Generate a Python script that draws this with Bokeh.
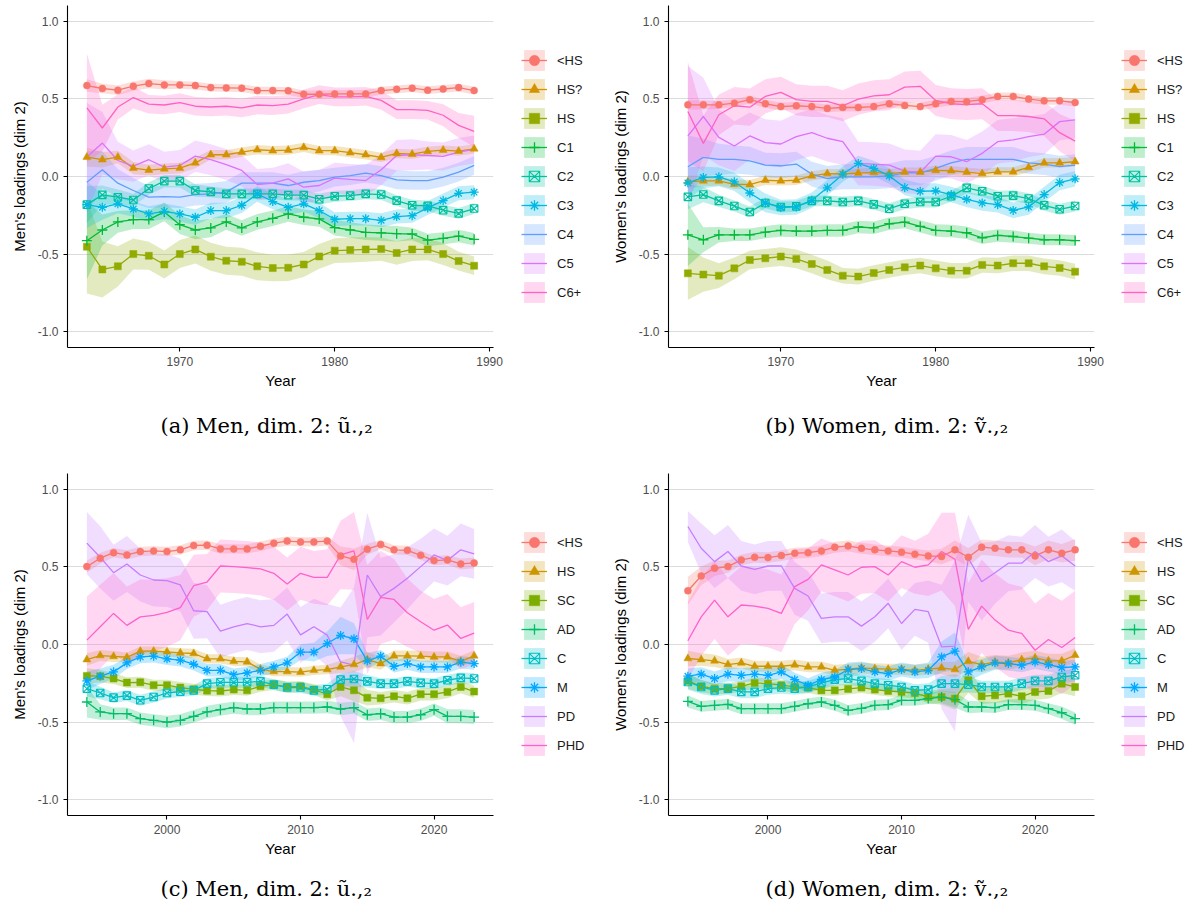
import numpy as np
from bokeh.plotting import figure
from bokeh.models import Legend, LegendItem, Title, FixedTicker, NumeralTickFormatter, Range1d
from bokeh.layouts import gridplot
from bokeh.embed import file_html
from bokeh.resources import INLINE

# ---------------- data ----------------
years_top = list(range(1964, 1990))
years_bot = list(range(1994, 2024))

top_names = ["<HS", "HS?", "HS", "C1", "C2", "C3", "C4", "C5", "C6+"]
bot_names = ["<HS", "HS", "SC", "AD", "C", "M", "PD", "PHD"]

top_colors = ["#F8766D", "#D39200", "#93AA00", "#00BA38", "#00C19F", "#00B9E3", "#619CFF", "#DB72FB", "#FF61C3"]
bot_colors = ["#F8766D", "#CD9600", "#7CAE00", "#00BE67", "#00BFC4", "#00A9FF", "#C77CFF", "#FF61CC"]

top_markers = ["circle", "triangle", "square", "cross", "square_x", "asterisk", None, None, None]
bot_markers = ["circle", "triangle", "square", "cross", "square_x", "asterisk", None, None]

# Panel (a): men 1964-1989
a_lths = [0.585,0.566,0.555,0.581,0.598,0.589,0.589,0.585,0.572,0.570,0.568,0.553,0.553,0.551,0.529,0.529,0.531,0.531,0.531,0.553,0.561,0.568,0.555,0.563,0.572,0.553]
a_hsq = [0.125,0.108,0.125,0.054,0.041,0.049,0.054,0.088,0.140,0.140,0.157,0.172,0.166,0.170,0.187,0.166,0.166,0.153,0.140,0.123,0.148,0.144,0.161,0.170,0.163,0.178]
a_hs = [-0.452,-0.598,-0.578,-0.499,-0.510,-0.566,-0.499,-0.469,-0.516,-0.542,-0.548,-0.578,-0.589,-0.587,-0.566,-0.514,-0.477,-0.473,-0.469,-0.467,-0.492,-0.469,-0.469,-0.499,-0.544,-0.574]
a_c1 = [-0.413,-0.344,-0.292,-0.277,-0.277,-0.228,-0.310,-0.344,-0.331,-0.292,-0.331,-0.292,-0.269,-0.241,-0.262,-0.273,-0.329,-0.344,-0.359,-0.363,-0.368,-0.370,-0.409,-0.398,-0.383,-0.404]
a_c2 = [-0.181,-0.118,-0.133,-0.151,-0.077,-0.030,-0.030,-0.090,-0.099,-0.112,-0.112,-0.112,-0.112,-0.120,-0.120,-0.146,-0.127,-0.123,-0.112,-0.116,-0.155,-0.185,-0.189,-0.217,-0.237,-0.206]
a_c3 = [-0.181,-0.198,-0.176,-0.209,-0.241,-0.224,-0.241,-0.262,-0.219,-0.219,-0.185,-0.112,-0.161,-0.198,-0.176,-0.219,-0.275,-0.271,-0.271,-0.282,-0.258,-0.252,-0.202,-0.155,-0.108,-0.101]
a_c4 = [-0.037,0.043,-0.043,-0.090,-0.133,-0.129,-0.133,-0.116,-0.112,-0.099,-0.043,-0.043,-0.043,-0.058,-0.037,-0.026,-0.004,0.006,0.022,0.006,-0.022,-0.026,-0.026,-0.004,0.028,0.071]
a_c5 = [0.125,0.215,0.103,0.067,0.108,0.060,0.071,0.131,0.108,0.077,0.039,-0.052,-0.043,-0.015,-0.069,-0.058,-0.011,-0.019,-0.026,0.043,0.135,0.140,0.135,0.129,0.157,0.174]
a_c6 = [0.441,0.312,0.447,0.508,0.465,0.460,0.475,0.452,0.447,0.452,0.441,0.460,0.456,0.465,0.499,0.527,0.512,0.512,0.516,0.490,0.430,0.430,0.426,0.394,0.329,0.290]
# half-widths of the confidence ribbons
a_lths_se = [0.04,0.03,0.03,0.03,0.03,0.03,0.025,0.025,0.025,0.025,0.025,0.025,0.025,0.025,0.025,0.025,0.025,0.025,0.025,0.025,0.025,0.025,0.025,0.025,0.025,0.025]
a_hsq_se = [0.06,0.05,0.04,0.04,0.035,0.035,0.035,0.035,0.03,0.03,0.03,0.03,0.03,0.03,0.03,0.03,0.03,0.03,0.03,0.03,0.03,0.03,0.03,0.03,0.03,0.03]
a_hs_se = [0.3,0.18,0.13,0.1,0.09,0.09,0.09,0.09,0.09,0.09,0.09,0.09,0.085,0.085,0.08,0.08,0.08,0.08,0.08,0.075,0.075,0.075,0.07,0.07,0.06,0.06]
a_c1_se = [0.25,0.1,0.07,0.06,0.06,0.06,0.06,0.06,0.06,0.05,0.05,0.05,0.05,0.05,0.05,0.05,0.05,0.05,0.05,0.05,0.05,0.04,0.04,0.04,0.04,0.04]
a_c2_se = [0.12,0.06,0.05,0.04,0.04,0.04,0.04,0.04,0.035,0.035,0.035,0.035,0.035,0.035,0.035,0.035,0.035,0.035,0.035,0.035,0.035,0.035,0.035,0.035,0.035,0.035]
a_c3_se = [0.15,0.08,0.06,0.05,0.05,0.05,0.05,0.05,0.05,0.05,0.05,0.05,0.05,0.05,0.05,0.05,0.045,0.045,0.045,0.045,0.045,0.045,0.045,0.045,0.045,0.045]
a_c4_se = [0.2,0.12,0.09,0.08,0.07,0.07,0.07,0.07,0.07,0.07,0.07,0.07,0.07,0.07,0.07,0.07,0.06,0.06,0.06,0.06,0.06,0.06,0.06,0.06,0.06,0.06]
a_c5_se = [0.35,0.2,0.12,0.1,0.1,0.1,0.1,0.1,0.1,0.1,0.1,0.1,0.1,0.1,0.1,0.1,0.1,0.1,0.1,0.1,0.1,0.1,0.09,0.09,0.09,0.09]
a_c6_se = [0.35,0.15,0.08,0.07,0.06,0.06,0.06,0.06,0.06,0.06,0.06,0.06,0.06,0.06,0.06,0.06,0.06,0.06,0.06,0.06,0.06,0.06,0.06,0.07,0.08,0.1]

# Panel (b): women 1964-1989
b_lths = [0.461,0.461,0.461,0.472,0.494,0.468,0.450,0.455,0.450,0.438,0.444,0.444,0.450,0.468,0.457,0.450,0.468,0.483,0.481,0.494,0.515,0.515,0.498,0.487,0.487,0.476]
b_hsq = [-0.034,-0.028,-0.028,-0.050,-0.052,-0.024,-0.028,-0.024,0.004,0.019,0.017,0.022,0.026,0.019,0.028,0.028,0.039,0.037,0.028,0.019,0.030,0.030,0.058,0.088,0.088,0.095]
b_hs = [-0.623,-0.631,-0.638,-0.591,-0.537,-0.526,-0.515,-0.530,-0.563,-0.601,-0.638,-0.644,-0.621,-0.601,-0.584,-0.573,-0.591,-0.606,-0.606,-0.569,-0.573,-0.558,-0.558,-0.578,-0.588,-0.612]
b_c1 = [-0.375,-0.407,-0.375,-0.375,-0.375,-0.358,-0.347,-0.351,-0.351,-0.347,-0.347,-0.325,-0.330,-0.304,-0.293,-0.321,-0.347,-0.351,-0.362,-0.394,-0.379,-0.386,-0.397,-0.407,-0.407,-0.412]
b_c2 = [-0.131,-0.116,-0.157,-0.190,-0.228,-0.170,-0.196,-0.192,-0.157,-0.157,-0.164,-0.157,-0.179,-0.207,-0.175,-0.164,-0.164,-0.127,-0.073,-0.095,-0.127,-0.123,-0.142,-0.185,-0.211,-0.190]
b_c3 = [-0.041,-0.006,-0.002,-0.034,-0.106,-0.170,-0.200,-0.196,-0.153,-0.073,0.015,0.084,0.052,0.004,-0.071,-0.095,-0.093,-0.116,-0.147,-0.170,-0.181,-0.218,-0.196,-0.116,-0.039,-0.015]
b_c4 = [0.063,0.123,0.110,0.110,0.101,0.073,0.069,0.080,0.015,-0.013,-0.002,-0.002,-0.002,0.004,0.024,0.024,0.052,0.088,0.110,0.110,0.110,0.110,0.088,0.080,0.063,0.073]
b_c5 = [0.261,0.386,0.252,0.196,0.261,0.218,0.209,0.256,0.282,0.246,0.224,0.084,0.080,0.073,0.034,0.026,0.131,0.127,0.095,0.149,0.224,0.235,0.256,0.272,0.353,0.364]
b_c6 = [0.418,0.213,0.397,0.455,0.446,0.515,0.541,0.494,0.483,0.483,0.455,0.498,0.519,0.526,0.575,0.580,0.489,0.468,0.463,0.468,0.392,0.392,0.386,0.371,0.282,0.228]
b_lths_se = [0.03,0.03,0.025,0.025,0.025,0.025,0.025,0.025,0.025,0.025,0.025,0.025,0.025,0.025,0.025,0.025,0.025,0.025,0.025,0.025,0.025,0.025,0.025,0.025,0.025,0.025]
b_hsq_se = [0.04,0.035,0.03,0.03,0.03,0.03,0.03,0.03,0.03,0.03,0.03,0.03,0.03,0.03,0.03,0.03,0.03,0.03,0.03,0.03,0.03,0.03,0.03,0.03,0.03,0.03]
b_hs_se = [0.17,0.11,0.08,0.07,0.06,0.06,0.06,0.06,0.06,0.06,0.05,0.05,0.05,0.05,0.05,0.05,0.05,0.05,0.05,0.05,0.05,0.05,0.05,0.05,0.05,0.05]
b_c1_se = [0.2,0.08,0.05,0.04,0.04,0.04,0.04,0.04,0.04,0.04,0.04,0.04,0.04,0.04,0.04,0.04,0.04,0.04,0.04,0.04,0.04,0.04,0.035,0.035,0.035,0.035]
b_c2_se = [0.08,0.05,0.04,0.035,0.035,0.035,0.035,0.035,0.035,0.035,0.035,0.035,0.035,0.035,0.035,0.035,0.035,0.035,0.035,0.035,0.035,0.035,0.035,0.035,0.035,0.035]
b_c3_se = [0.1,0.07,0.06,0.06,0.06,0.06,0.05,0.05,0.05,0.05,0.05,0.05,0.05,0.05,0.05,0.05,0.05,0.05,0.05,0.05,0.05,0.05,0.05,0.05,0.05,0.05]
b_c4_se = [0.2,0.12,0.1,0.09,0.09,0.08,0.08,0.08,0.08,0.08,0.08,0.08,0.08,0.08,0.08,0.08,0.08,0.08,0.08,0.08,0.08,0.08,0.07,0.07,0.07,0.07]
b_c5_se = [0.45,0.25,0.18,0.16,0.15,0.15,0.15,0.15,0.15,0.15,0.15,0.14,0.14,0.14,0.14,0.14,0.14,0.14,0.14,0.14,0.14,0.14,0.13,0.13,0.12,0.12]
b_c6_se = [0.32,0.18,0.13,0.12,0.12,0.11,0.1,0.1,0.1,0.1,0.1,0.1,0.1,0.1,0.1,0.1,0.1,0.1,0.1,0.1,0.1,0.1,0.1,0.11,0.12,0.13]

# Panel (c): men 1994-2023
c_lths = [0.501,0.555,0.591,0.576,0.598,0.602,0.598,0.609,0.637,0.639,0.615,0.615,0.615,0.632,0.652,0.665,0.660,0.660,0.665,0.570,0.548,0.613,0.643,0.609,0.606,0.574,0.540,0.544,0.518,0.525]
c_hs = [-0.097,-0.071,-0.077,-0.082,-0.043,-0.043,-0.047,-0.054,-0.058,-0.092,-0.092,-0.108,-0.112,-0.159,-0.174,-0.174,-0.178,-0.166,-0.161,-0.144,-0.129,-0.097,-0.123,-0.073,-0.073,-0.075,-0.080,-0.080,-0.108,-0.073]
c_sc = [-0.202,-0.204,-0.219,-0.245,-0.243,-0.262,-0.262,-0.277,-0.288,-0.297,-0.299,-0.290,-0.295,-0.269,-0.258,-0.273,-0.269,-0.290,-0.320,-0.273,-0.295,-0.342,-0.346,-0.333,-0.346,-0.320,-0.320,-0.305,-0.273,-0.303]
c_ad = [-0.370,-0.434,-0.445,-0.445,-0.477,-0.488,-0.499,-0.488,-0.462,-0.434,-0.419,-0.406,-0.415,-0.415,-0.406,-0.406,-0.406,-0.406,-0.402,-0.415,-0.406,-0.452,-0.445,-0.467,-0.467,-0.452,-0.419,-0.462,-0.462,-0.467]
c_c = [-0.284,-0.312,-0.342,-0.329,-0.359,-0.338,-0.312,-0.303,-0.295,-0.252,-0.243,-0.243,-0.243,-0.237,-0.258,-0.277,-0.277,-0.295,-0.288,-0.226,-0.222,-0.237,-0.252,-0.252,-0.237,-0.247,-0.252,-0.230,-0.215,-0.219]
c_m = [-0.234,-0.204,-0.176,-0.118,-0.080,-0.075,-0.092,-0.101,-0.127,-0.166,-0.166,-0.194,-0.183,-0.166,-0.144,-0.118,-0.049,-0.049,0.006,0.058,0.037,-0.105,-0.075,-0.140,-0.123,-0.144,-0.144,-0.144,-0.114,-0.123]
c_pd = [0.652,0.561,0.462,0.518,0.447,0.415,0.411,0.383,0.217,0.211,0.086,0.114,0.135,0.114,0.123,0.196,0.062,0.114,0.060,-0.112,-0.133,0.447,0.308,0.361,0.426,0.501,0.576,0.540,0.609,0.583]
c_phd = [0.028,0.114,0.200,0.123,0.178,0.187,0.206,0.237,0.378,0.402,0.505,0.501,0.495,0.486,0.458,0.389,0.458,0.432,0.432,0.576,0.602,0.161,0.303,0.290,0.204,0.146,0.092,0.125,0.039,0.073]
c_lths_se = [0.04,0.035,0.03,0.03,0.03,0.03,0.03,0.03,0.03,0.03,0.03,0.03,0.03,0.03,0.03,0.03,0.03,0.03,0.03,0.06,0.07,0.035,0.03,0.03,0.03,0.03,0.03,0.03,0.035,0.035]
c_hs_se = [0.04,0.035,0.035,0.03,0.03,0.03,0.03,0.03,0.03,0.03,0.03,0.03,0.03,0.03,0.03,0.03,0.03,0.03,0.03,0.04,0.05,0.05,0.04,0.035,0.035,0.035,0.035,0.035,0.035,0.035]
c_sc_se = [0.05,0.04,0.035,0.035,0.035,0.035,0.035,0.035,0.035,0.035,0.035,0.035,0.035,0.035,0.035,0.035,0.035,0.035,0.04,0.06,0.07,0.05,0.04,0.04,0.04,0.04,0.04,0.04,0.04,0.04]
c_ad_se = [0.1,0.05,0.04,0.04,0.04,0.04,0.04,0.04,0.04,0.04,0.04,0.04,0.04,0.04,0.04,0.04,0.04,0.04,0.04,0.04,0.04,0.04,0.04,0.04,0.04,0.04,0.04,0.045,0.045,0.045]
c_c_se = [0.05,0.04,0.035,0.035,0.035,0.035,0.035,0.035,0.035,0.035,0.035,0.035,0.035,0.035,0.035,0.035,0.035,0.035,0.035,0.04,0.05,0.04,0.035,0.035,0.035,0.035,0.035,0.035,0.035,0.035]
c_m_se = [0.06,0.05,0.045,0.04,0.04,0.04,0.04,0.04,0.04,0.04,0.04,0.04,0.04,0.04,0.04,0.04,0.05,0.06,0.08,0.12,0.1,0.05,0.04,0.04,0.04,0.04,0.04,0.04,0.04,0.04]
c_pd_se = [0.2,0.2,0.18,0.18,0.17,0.17,0.17,0.17,0.18,0.17,0.17,0.17,0.17,0.17,0.17,0.17,0.18,0.18,0.2,0.35,0.5,0.4,0.25,0.22,0.2,0.18,0.17,0.16,0.17,0.16]
c_phd_se = [0.28,0.27,0.26,0.25,0.24,0.23,0.22,0.21,0.2,0.18,0.17,0.17,0.17,0.17,0.17,0.17,0.17,0.17,0.18,0.22,0.25,0.35,0.3,0.26,0.22,0.2,0.2,0.2,0.2,0.2]

# Panel (d): women 1994-2023
d_lths = [0.346,0.441,0.490,0.501,0.544,0.561,0.559,0.572,0.587,0.591,0.602,0.626,0.634,0.619,0.609,0.602,0.594,0.581,0.570,0.566,0.609,0.561,0.626,0.619,0.609,0.609,0.570,0.609,0.587,0.609]
d_hs = [-0.090,-0.097,-0.105,-0.129,-0.118,-0.140,-0.140,-0.140,-0.131,-0.144,-0.144,-0.166,-0.159,-0.151,-0.155,-0.159,-0.159,-0.166,-0.159,-0.151,-0.161,-0.108,-0.129,-0.112,-0.118,-0.097,-0.086,-0.105,-0.105,-0.069]
d_sc = [-0.234,-0.269,-0.284,-0.284,-0.269,-0.247,-0.252,-0.262,-0.273,-0.277,-0.295,-0.295,-0.286,-0.277,-0.290,-0.299,-0.305,-0.312,-0.338,-0.338,-0.348,-0.230,-0.333,-0.327,-0.316,-0.333,-0.305,-0.299,-0.252,-0.273]
d_ad = [-0.366,-0.398,-0.391,-0.385,-0.413,-0.413,-0.413,-0.413,-0.398,-0.381,-0.370,-0.391,-0.424,-0.411,-0.391,-0.387,-0.359,-0.359,-0.348,-0.338,-0.355,-0.402,-0.402,-0.406,-0.387,-0.387,-0.391,-0.413,-0.439,-0.477]
d_c = [-0.241,-0.273,-0.295,-0.284,-0.305,-0.305,-0.284,-0.277,-0.284,-0.273,-0.247,-0.226,-0.219,-0.234,-0.252,-0.262,-0.273,-0.295,-0.290,-0.252,-0.252,-0.258,-0.273,-0.273,-0.273,-0.252,-0.234,-0.234,-0.209,-0.198]
d_m = [-0.204,-0.191,-0.219,-0.191,-0.198,-0.191,-0.198,-0.176,-0.226,-0.262,-0.226,-0.209,-0.161,-0.155,-0.176,-0.187,-0.161,-0.176,-0.166,-0.080,-0.043,-0.176,-0.144,-0.118,-0.123,-0.133,-0.112,-0.129,-0.148,-0.144]
d_pd = [0.759,0.619,0.533,0.598,0.505,0.484,0.505,0.505,0.361,0.312,0.168,0.178,0.178,0.118,0.178,0.265,0.135,0.226,0.211,-0.015,-0.011,0.555,0.404,0.462,0.523,0.523,0.598,0.533,0.570,0.505]
d_phd = [0.024,0.178,0.286,0.178,0.254,0.247,0.232,0.200,0.372,0.419,0.512,0.480,0.447,0.497,0.501,0.447,0.533,0.497,0.512,0.598,0.548,0.097,0.247,0.157,0.092,0.071,-0.037,0.032,-0.019,0.045]
d_lths_se = [0.09,0.06,0.05,0.04,0.035,0.035,0.035,0.035,0.035,0.035,0.035,0.035,0.035,0.035,0.035,0.035,0.035,0.035,0.035,0.05,0.06,0.06,0.05,0.05,0.05,0.05,0.06,0.06,0.06,0.07]
d_hs_se = [0.05,0.04,0.04,0.035,0.035,0.035,0.035,0.035,0.035,0.035,0.035,0.035,0.035,0.035,0.035,0.035,0.035,0.035,0.035,0.04,0.05,0.06,0.05,0.045,0.045,0.045,0.045,0.045,0.045,0.045]
d_sc_se = [0.05,0.04,0.035,0.035,0.035,0.035,0.035,0.035,0.035,0.035,0.035,0.035,0.035,0.035,0.035,0.035,0.035,0.035,0.04,0.05,0.07,0.08,0.05,0.05,0.05,0.05,0.05,0.05,0.06,0.06]
d_ad_se = [0.04,0.035,0.035,0.035,0.035,0.035,0.035,0.035,0.035,0.035,0.035,0.035,0.035,0.035,0.035,0.035,0.035,0.035,0.035,0.04,0.05,0.04,0.035,0.035,0.035,0.035,0.035,0.035,0.04,0.04]
d_c_se = [0.05,0.045,0.04,0.04,0.04,0.04,0.04,0.04,0.04,0.04,0.04,0.04,0.04,0.04,0.04,0.04,0.04,0.04,0.04,0.05,0.06,0.05,0.04,0.04,0.04,0.04,0.04,0.04,0.04,0.04]
d_m_se = [0.05,0.045,0.045,0.045,0.045,0.045,0.045,0.045,0.045,0.045,0.045,0.045,0.045,0.045,0.045,0.045,0.045,0.045,0.05,0.1,0.12,0.06,0.05,0.045,0.045,0.045,0.045,0.045,0.045,0.045]
d_pd_se = [0.1,0.16,0.17,0.17,0.16,0.16,0.16,0.16,0.17,0.16,0.16,0.16,0.16,0.16,0.16,0.16,0.17,0.17,0.2,0.4,0.55,0.28,0.25,0.2,0.18,0.17,0.17,0.16,0.17,0.16]
d_phd_se = [0.25,0.25,0.25,0.25,0.25,0.25,0.25,0.25,0.24,0.2,0.17,0.17,0.17,0.17,0.17,0.17,0.17,0.17,0.2,0.25,0.3,0.3,0.3,0.3,0.3,0.3,0.3,0.3,0.3,0.3]

y_ticks = [-1.0, -0.5, 0.0, 0.5, 1.0]
x_ticks_top = [1970, 1980, 1990]
x_ticks_bot = [2000, 2010, 2020]

captions = ["(a) Men, dim. 2: ũ.,₂", "(b) Women, dim. 2: ṽ.,₂",
            "(c) Men, dim. 2: ũ.,₂", "(d) Women, dim. 2: ṽ.,₂"]

SANS = "Liberation Sans"
SERIF = "DejaVu Serif"

MSIZE = {"circle": 7, "triangle": 8, "square": 7, "cross": 10, "square_x": 7.5, "asterisk": 9}
MAIN_W = 510
LEG_W = 90
PANEL_H = 458


def add_series(p, years, colors, markers, values, ses):
    ribbons, lines, marks = [], [], []
    for col, vals, se in zip(colors, values, ses):
        v = np.array(vals, dtype=float)
        s = np.array(se, dtype=float)
        ribbons.append(p.varea(x=years, y1=v - s, y2=v + s, fill_color=col, fill_alpha=0.25))
    for col, vals in zip(colors, values):
        lines.append(p.line(years, vals, line_color=col, line_width=1.3))
    for col, vals, mk in zip(colors, values, markers):
        if mk is None:
            marks.append(None)
            continue
        if mk == "square_x":
            r = p.scatter(years, vals, marker=mk, size=MSIZE[mk], line_color=col,
                          fill_color=None, line_width=1.1)
        elif mk in ("cross", "asterisk"):
            r = p.scatter(years, vals, marker=mk, size=MSIZE[mk], line_color=col, line_width=1.3)
        else:
            r = p.scatter(years, vals, marker=mk, size=MSIZE[mk], line_color=col,
                          fill_color=col, line_width=0.5)
        marks.append(r)
    return ribbons, lines, marks


def panel(years, names, colors, markers, values, ses, ylabel, xticks, xr, caption,
          cap_off, top, border_left, cap_standoff):
    p = figure(width=MAIN_W, height=PANEL_H, x_range=Range1d(*xr), y_range=Range1d(-1.1, 1.1),
               output_backend="svg", toolbar_location=None, title_location=None,
               min_border_left=border_left, min_border_right=MAIN_W - border_left - 426,
               min_border_top=5 if top else 15, min_border_bottom=111 if top else 101)
    p.background_fill_color = "white"
    p.border_fill_color = "white"
    p.outline_line_color = None
    p.xgrid.grid_line_color = None
    p.ygrid.grid_line_color = "#dcdcdc"
    p.ygrid.grid_line_width = 1

    for ax in (p.xaxis[0], p.yaxis[0]):
        ax.axis_line_color = "black"
        ax.axis_line_width = 1.1
        ax.major_tick_line_color = "black"
        ax.major_tick_line_width = 1.1
        ax.major_tick_out = 4
        ax.major_tick_in = 0
        ax.minor_tick_line_color = None
        ax.major_label_text_font = SANS
        ax.major_label_text_font_size = "12px"
        ax.major_label_text_color = "#4d4d4d"
        ax.axis_label_text_font = SANS
        ax.axis_label_text_font_size = "15px"
        ax.axis_label_text_font_style = "normal"
        ax.axis_label_text_color = "black"
    p.xaxis.ticker = FixedTicker(ticks=xticks)
    p.yaxis.ticker = FixedTicker(ticks=y_ticks)
    p.yaxis.formatter = NumeralTickFormatter(format="0.0")
    p.xaxis.axis_label = "Year"
    p.yaxis.axis_label = ylabel
    p.xaxis.axis_label_standoff = 3
    p.yaxis.axis_label_standoff = 7

    add_series(p, years, colors, markers, values, ses)

    t = Title(text=caption, align="left", offset=cap_off, text_font=SERIF,
              text_font_size="21px", text_font_style="normal", text_color="black",
              standoff=cap_standoff, text_line_height=1.0)
    p.add_layout(t, "below")
    return p


def legend_panel(years, names, colors, markers, values, ses, legend_y):
    # companion figure holding the key; its renderers repeat the series styles,
    # while its ranges keep the data itself out of view
    q = figure(width=LEG_W, height=PANEL_H, x_range=Range1d(0, 1), y_range=Range1d(0, 1),
               output_backend="svg", toolbar_location=None, title_location=None,
               x_axis_type=None, y_axis_type=None,
               min_border_left=0, min_border_right=0, min_border_top=0, min_border_bottom=0)
    q.outline_line_color = None
    q.background_fill_color = "white"
    q.border_fill_color = "white"
    q.xgrid.visible = False
    q.ygrid.visible = False
    ribbons, lines, marks = add_series(q, years, colors, markers, values, ses)
    items = []
    for i, nm in enumerate(names):
        rs = [ribbons[i], lines[i]] + ([marks[i]] if marks[i] is not None else [])
        items.append(LegendItem(label=nm, renderers=rs))
    leg = Legend(items=items, location=(11, legend_y))
    leg.border_line_color = None
    leg.background_fill_alpha = 0
    leg.padding = 0
    leg.margin = 0
    leg.spacing = 3
    leg.glyph_width = 26
    leg.glyph_height = 26
    leg.label_standoff = 10
    leg.label_text_font = SANS
    leg.label_text_font_size = "13px"
    leg.label_text_color = "#1a1a1a"
    q.add_layout(leg)
    return q


a_vals = [a_lths, a_hsq, a_hs, a_c1, a_c2, a_c3, a_c4, a_c5, a_c6]
a_ses = [a_lths_se, a_hsq_se, a_hs_se, a_c1_se, a_c2_se, a_c3_se, a_c4_se, a_c5_se, a_c6_se]
b_vals = [b_lths, b_hsq, b_hs, b_c1, b_c2, b_c3, b_c4, b_c5, b_c6]
b_ses = [b_lths_se, b_hsq_se, b_hs_se, b_c1_se, b_c2_se, b_c3_se, b_c4_se, b_c5_se, b_c6_se]
c_vals = [c_lths, c_hs, c_sc, c_ad, c_c, c_m, c_pd, c_phd]
c_ses = [c_lths_se, c_hs_se, c_sc_se, c_ad_se, c_c_se, c_m_se, c_pd_se, c_phd_se]
d_vals = [d_lths, d_hs, d_sc, d_ad, d_c, d_m, d_pd, d_phd]
d_ses = [d_lths_se, d_hs_se, d_sc_se, d_ad_se, d_c_se, d_m_se, d_pd_se, d_phd_se]

pa = panel(years_top, top_names, top_colors, top_markers, a_vals, a_ses,
           "Men's loadings (dim 2)", x_ticks_top, (1962.75, 1990.25), captions[0], 93, True, 67, 41)
pb = panel(years_top, top_names, top_colors, top_markers, b_vals, b_ses,
           "Women's loadings (dim 2)", x_ticks_top, (1962.75, 1990.25), captions[1], 97, True, 68, 41)
pc = panel(years_bot, bot_names, bot_colors, bot_markers, c_vals, c_ses,
           "Men's loadings (dim 2)", x_ticks_bot, (1992.55, 2024.45), captions[2], 93, False, 67, 30)
pd_ = panel(years_bot, bot_names, bot_colors, bot_markers, d_vals, d_ses,
            "Women's loadings (dim 2)", x_ticks_bot, (1992.55, 2024.45), captions[3], 97, False, 68, 30)

la = legend_panel(years_top, top_names, top_colors, top_markers, a_vals, a_ses, 42)
lb = legend_panel(years_top, top_names, top_colors, top_markers, b_vals, b_ses, 42)
lc = legend_panel(years_bot, bot_names, bot_colors, bot_markers, c_vals, c_ses, 57)
ld = legend_panel(years_bot, bot_names, bot_colors, bot_markers, d_vals, d_ses, 57)

grid = gridplot([[pa, la, pb, lb], [pc, lc, pd_, ld]], toolbar_location=None)
open("out.html", "w").write(file_html(grid, INLINE))
